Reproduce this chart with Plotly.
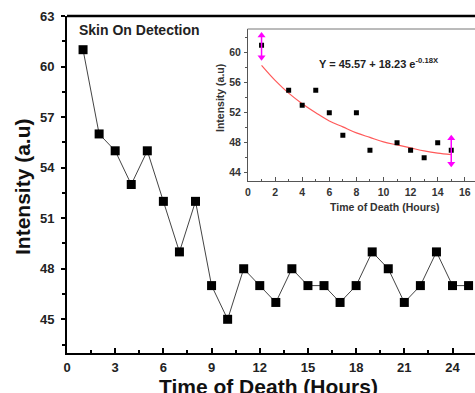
import plotly.graph_objects as go

# Main series: Skin On Detection
hours = list(range(1, 26))
intensity = [61, 56, 55, 53, 55, 52, 49, 52, 47, 45, 48, 47, 46, 48, 47,
             47, 46, 47, 49, 48, 46, 47, 49, 47, 47]

# Inset series
inset_hours = [1, 3, 4, 5, 6, 7, 8, 9, 11, 12, 13, 14, 15]
inset_intensity = [61, 55, 53, 55, 52, 49, 52, 47, 48, 47, 46, 48, 47]

# Fitted curve
fit_hours = list(range(1, 16))
fit_values = [58.3, 56.3, 54.6, 53.2, 52.0, 50.9, 50.1, 49.3, 48.7, 48.1,
              47.7, 47.3, 46.9, 46.6, 46.4]

# Magenta double arrows in the inset (arrow-head centres)
arrow_x = [1, 15]
arrow_low = [59.4, 45.2]
arrow_high = [62.3, 48.6]

main_xticks = [0, 3, 6, 9, 12, 15, 18, 21, 24]
main_yticks = [45, 48, 51, 54, 57, 60, 63]
inset_xticks = [0, 2, 4, 6, 8, 10, 12, 14, 16]
inset_yticks = [44, 48, 52, 56, 60]

FONT = "Liberation Sans"
W, H = 475, 393
ML, MR, MT, MB = 67, 0, 16, 40
PW, PH = W - ML - MR, H - MT - MB


def px(x):
    return (x - ML) / PW


def py(y):
    return (H - MB - y) / PH


fig = go.Figure()

fig.add_trace(go.Scatter(
    x=hours, y=intensity, mode="lines+markers",
    line=dict(color="#444444", width=1),
    marker=dict(symbol="square", size=9, color="black"),
    xaxis="x", yaxis="y", showlegend=False))

fig.add_trace(go.Scatter(
    x=fit_hours, y=fit_values, mode="lines", line_shape="spline",
    line=dict(color="#ff5a5a", width=1.2),
    xaxis="x2", yaxis="y2", showlegend=False))

fig.add_trace(go.Scatter(
    x=inset_hours, y=inset_intensity, mode="markers",
    marker=dict(symbol="square", size=5, color="black"),
    xaxis="x2", yaxis="y2", showlegend=False))

for ax_, lo, hi in zip(arrow_x, arrow_low, arrow_high):
    fig.add_trace(go.Scatter(
        x=[ax_, ax_], y=[lo, hi], mode="lines+markers",
        line=dict(color="#ff00ff", width=1.5),
        marker=dict(symbol=["triangle-down", "triangle-up"], size=7,
                    color="#ff00ff"),
        xaxis="x2", yaxis="y2", showlegend=False))

bold = dict(family=FONT, weight="bold")

annotations = [
    dict(text="Skin On Detection", x=px(77), y=py(30), xref="paper", yref="paper",
         xanchor="left", yanchor="middle", showarrow=False,
         font=dict(size=14, color="#222222", **bold)),
    dict(text="Y = 45.57 + 18.23 e<sup>-0.18X</sup>", x=px(379), y=py(63),
         xref="paper", yref="paper", xanchor="center", yanchor="middle",
         showarrow=False, font=dict(size=11, color="#222222", **bold)),
    dict(text="Intensity (a.u)", x=px(220), y=py(98), xref="paper", yref="paper",
         xanchor="center", yanchor="middle", textangle=-90, showarrow=False,
         font=dict(size=10.5, color="#333333", **bold)),
    dict(text="Time of Death (Hours)", x=px(384), y=py(207), xref="paper",
         yref="paper", xanchor="center", yanchor="middle", showarrow=False,
         font=dict(size=10.5, color="#333333", **bold)),
    dict(text="Time of Death (Hours)", x=px(268), y=py(386), xref="paper",
         yref="paper", xanchor="center", yanchor="middle", showarrow=False,
         font=dict(size=21, color="#111111", **bold)),
    dict(text="Intensity (a.u)", x=px(22), y=py(187), xref="paper",
         yref="paper", xanchor="center", yanchor="middle", textangle=-90,
         showarrow=False, font=dict(size=21, color="#111111", **bold)),
]

shapes = [
    dict(type="line", xref="paper", yref="paper", x0=0, x1=1, y0=1, y1=1,
         line=dict(color="black", width=2.5)),
    dict(type="line", xref="paper", yref="paper", x0=px(247.5), x1=1,
         y0=py(29), y1=py(29), line=dict(color="#777777", width=1)),
]

fig.update_layout(
    width=W, height=H,
    margin=dict(l=ML, r=MR, t=MT, b=MB),
    paper_bgcolor="white", plot_bgcolor="white",
    xaxis=dict(domain=[0, 1], range=[0, 25.4], showline=True, linewidth=2,
               linecolor="black", ticks="inside", ticklen=5, tickwidth=2,
               tickcolor="black", tickvals=main_xticks, showgrid=False,
               zeroline=False, ticklabelstandoff=1,
               tickfont=dict(size=13, color="#222222", **bold),
               minor=dict(ticks="inside", ticklen=3, tickwidth=2,
                          tickcolor="black", dtick=1.5, tick0=0,
                          showgrid=False)),
    yaxis=dict(domain=[0, 1], range=[43, 63], showline=True, linewidth=2,
               linecolor="black", ticks="outside", ticklen=4, tickwidth=2,
               tickcolor="black", tickvals=main_yticks, showgrid=False,
               zeroline=False, ticklabelstandoff=4,
               tickfont=dict(size=13, color="#222222", **bold),
               minor=dict(ticks="outside", ticklen=3, tickwidth=1.5,
                          tickcolor="black", dtick=1.5, tick0=43.5,
                          showgrid=False)),
    xaxis2=dict(domain=[px(248), 1], range=[0, (W - 248) / 13.55], anchor="y2",
                showline=True, linewidth=1, linecolor="#555555",
                ticks="inside", ticklen=4, tickwidth=1, tickcolor="#555555",
                tickvals=inset_xticks, showgrid=False, zeroline=False,
                ticklabelstandoff=2,
                tickfont=dict(size=10.5, color="#333333", **bold),
                minor=dict(ticks="inside", ticklen=2, tickwidth=1,
                           tickcolor="#555555", dtick=1, tick0=0,
                           showgrid=False)),
    yaxis2=dict(domain=[py(180.7), py(29)], range=[42.93, 63.15], anchor="x2",
                showline=True, linewidth=1, linecolor="#555555",
                ticks="outside", ticklen=3, tickwidth=1, tickcolor="#555555",
                tickvals=inset_yticks, showgrid=False, zeroline=False,
                ticklabelstandoff=1,
                tickfont=dict(size=10.5, color="#333333", **bold),
                minor=dict(ticks="outside", ticklen=2, tickwidth=1,
                           tickcolor="#555555", dtick=2, tick0=42,
                           showgrid=False)),
    annotations=annotations,
    shapes=shapes,
    showlegend=False,
)

fig.write_html("out.html",
               config={"displayModeBar": False},
               post_script="document.body.style.margin='0';"
                           "document.body.style.overflow='hidden';")
